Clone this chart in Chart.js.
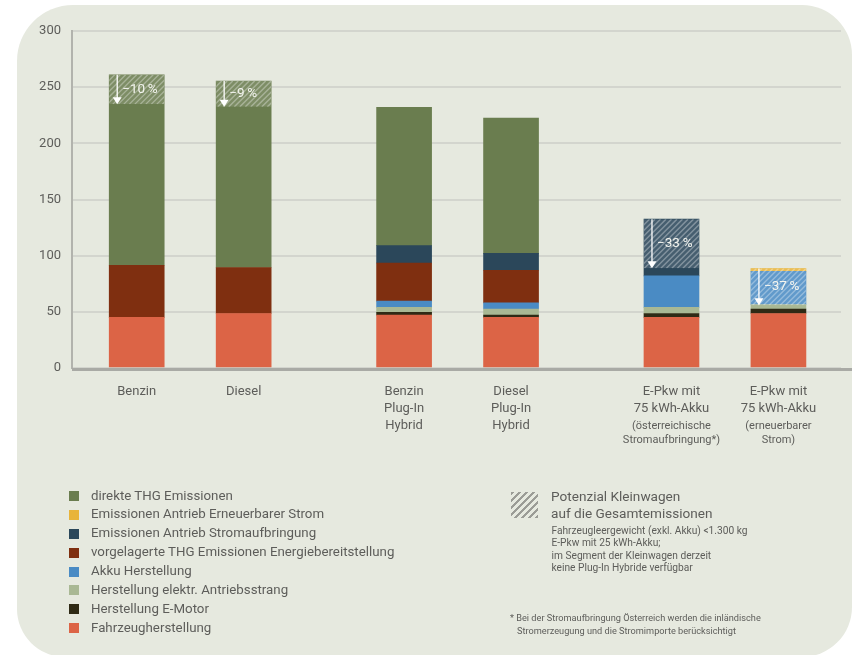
<!DOCTYPE html>
<html lang="de">
<head>
<meta charset="utf-8">
<title>THG-Emissionen Pkw</title>
<script src="https://cdn.jsdelivr.net/npm/chart.js@4.4.0/dist/chart.umd.min.js"></script>
<style>
  html, body { margin: 0; padding: 0; background: #ffffff; }
  body { width: 855px; height: 655px; position: relative; overflow: hidden;
         font-family: Roboto, "Open Sans", sans-serif; color: #5d5d5a; }
  #panel { position: absolute; left: 17px; top: 5px; width: 835px; height: 652px;
           background: #e6e9df; border-radius: 56px 50px 50px 48px; }
  #c { position: absolute; left: 0; top: 0; }
  #legend { position: absolute; left: 69px; top: 486.5px; margin: 0; padding: 0;
            list-style: none; font-size: 13.3px; line-height: 18.9px; }
  #legend li { display: flex; align-items: center; white-space: nowrap; }
  #legend .sw { width: 10px; height: 10px; margin-right: 12px; flex: none; }
  #hatchKey { position: absolute; left: 511px; top: 491.5px; width: 27px; height: 26px;
              background: repeating-linear-gradient(135deg, #9b9c96 0 2.2px, transparent 2.2px 5px); }
  #potTitle { position: absolute; left: 551px; top: 488px; font-size: 13.6px; line-height: 16.6px; white-space: nowrap; }
  #potNote { position: absolute; left: 551.5px; top: 524.8px; font-size: 10.2px; line-height: 12.5px; white-space: nowrap; }
  #footnote { position: absolute; left: 510px; top: 610.6px; font-size: 9.2px; line-height: 13.4px;
              white-space: nowrap; padding-left: 7px; text-indent: -7px; }
</style>
</head>
<body>
<div id="panel"></div>
<canvas id="c" width="855" height="655"></canvas>
<ul id="legend"></ul>
<div id="hatchKey"></div>
<div id="potTitle">Potenzial Kleinwagen<br>auf die Gesamtemissionen</div>
<div id="potNote">Fahrzeugleergewicht (exkl. Akku) &lt;1.300 kg<br>E-Pkw mit 25 kWh-Akku;<br>im Segment der Kleinwagen derzeit<br>keine Plug-In Hybride verfügbar</div>
<div id="footnote">* Bei der Stromaufbringung Österreich werden die inländische<br>Stromerzeugung und die Stromimporte berücksichtigt</div>
<script>
// Fahrzeugkategorien (Achsbeschriftung) und Zusatzzeilen in kleiner Schrift
const categories = [
  ['Benzin'],
  ['Diesel'],
  ['Benzin', 'Plug-In', 'Hybrid'],
  ['Diesel', 'Plug-In', 'Hybrid'],
  ['E-Pkw mit', '75 kWh-Akku'],
  ['E-Pkw mit', '75 kWh-Akku']
];
const categoryNotes = [[], [], [], [], ['(österreichische', 'Stromaufbringung*)'], ['(erneuerbarer', 'Strom)']];
// Antriebsgruppe je Fahrzeug: Verbrenner, Plug-In Hybrid, Elektro
const driveGroup = [0, 0, 1, 1, 2, 2];

// THG-Emissionen je Quelle (g CO2-Äq./km), von unten nach oben gestapelt
const fahrzeugherstellung      = [45, 48.5, 47, 45, 45, 48.5];
const herstellungEMotor        = [null, null, 2.5, 2, 3.5, 4];
const elektrAntriebsstrang     = [null, null, 4.5, 5.5, 5.5, 4];
const akkuHerstellung          = [null, null, 5.5, 5.5, 28, 29.5];
const vorgelagerteEmissionen   = [46.5, 41, 34, 29, null, null];
const antriebStromaufbringung  = [null, null, 15.5, 15, 50.5, null];
const antriebErneuerbarStrom   = [null, null, null, null, null, 2.5];
const direkteEmissionen        = [169.5, 166, 123, 120.5, null, null];

// Einsparpotenzial Kleinwagen in % der Gesamtemissionen
const kleinwagenPotenzial = [-10, -9, null, null, -33, -37];

// y-Achse
const yMax = 300;
const yStep = 50;

// Position jeder Säule: Paare innerhalb einer Gruppe, größerer Abstand zwischen Gruppen
const slots = driveGroup.map((g, i) => g * 5 + (driveGroup.slice(0, i).filter(v => v === g).length) * 2);

const series = [
  { label: 'Fahrzeugherstellung', data: fahrzeugherstellung, color: '#dc6446' },
  { label: 'Herstellung E-Motor', data: herstellungEMotor, color: '#2f2a15' },
  { label: 'Herstellung elektr. Antriebsstrang', data: elektrAntriebsstrang, color: '#a9b894' },
  { label: 'Akku Herstellung', data: akkuHerstellung, color: '#4a8bc4' },
  { label: 'vorgelagerte THG Emissionen Energiebereitstellung', data: vorgelagerteEmissionen, color: '#7f2f10' },
  { label: 'Emissionen Antrieb Stromaufbringung', data: antriebStromaufbringung, color: '#2b475a' },
  { label: 'Emissionen Antrieb Erneuerbarer Strom', data: antriebErneuerbarStrom, color: '#e8b43a' },
  { label: 'direkte THG Emissionen', data: direkteEmissionen, color: '#6a7d4f' }
];

Chart.defaults.font.family = 'Roboto, "Open Sans", sans-serif';
Chart.defaults.color = '#5d5d5a';

// Schraffur, Pfeil und Prozentangabe für das Kleinwagen-Potenzial
const potentialPlugin = {
  id: 'potential',
  afterDatasetsDraw(chart) {
    const { ctx, scales: { y }, chartArea } = chart;
    // Grundlinie bis zum rechten Rand
    const y0 = y.getPixelForValue(0);
    ctx.save();
    ctx.strokeStyle = '#a9aaa5';
    ctx.lineWidth = 3;
    ctx.beginPath();
    ctx.moveTo(chartArea.left, y0 + 1.5);
    ctx.lineTo(852, y0 + 1.5);
    ctx.stroke();
    ctx.restore();

    kleinwagenPotenzial.forEach((pct, i) => {
      if (pct == null) return;
      let total = 0;
      let bar = null;
      chart.data.datasets.forEach((ds, d) => {
        const v = ds.data[i].y;
        if (v != null) {
          total += v;
          bar = chart.getDatasetMeta(d).data[i];
        }
      });
      if (!bar) return;
      const { x, width } = bar.getProps(['x', 'width'], true);
      const left = x - width / 2;
      const yTop = y.getPixelForValue(total);
      const yBot = y.getPixelForValue(total * (1 + pct / 100));
      const h = yBot - yTop;

      ctx.save();
      ctx.beginPath();
      ctx.rect(left, yTop, width, h);
      ctx.clip();
      ctx.fillStyle = 'rgba(255,255,255,0.13)';
      ctx.fillRect(left, yTop, width, h);
      ctx.strokeStyle = 'rgba(255,255,255,0.33)';
      ctx.lineWidth = 1.4;
      for (let k = -h; k < width + h; k += 5.5) {
        ctx.beginPath();
        ctx.moveTo(left + k, yBot);
        ctx.lineTo(left + k + h, yTop);
        ctx.stroke();
      }
      ctx.restore();

      const ax = left + 8;
      ctx.save();
      ctx.strokeStyle = '#ffffff';
      ctx.fillStyle = '#ffffff';
      ctx.lineWidth = 1.3;
      ctx.beginPath();
      ctx.moveTo(ax, yTop);
      ctx.lineTo(ax, yBot - 6);
      ctx.stroke();
      ctx.beginPath();
      ctx.moveTo(ax - 4.5, yBot - 7);
      ctx.lineTo(ax + 4.5, yBot - 7);
      ctx.lineTo(ax, yBot);
      ctx.closePath();
      ctx.fill();
      ctx.fillStyle = '#f4f5ef';
      ctx.font = '13.5px Roboto, "Open Sans", sans-serif';
      ctx.textAlign = 'left';
      ctx.textBaseline = 'middle';
      ctx.fillText('\u2212' + Math.abs(pct) + '\u2009%', ax + 5, (yTop + yBot) / 2);
      ctx.restore();
    });
  },
  afterDraw(chart) {
    const { ctx, scales: { x } } = chart;
    ctx.save();
    ctx.font = '11px Roboto, "Open Sans", sans-serif';
    ctx.fillStyle = '#5d5d5a';
    ctx.textAlign = 'center';
    ctx.textBaseline = 'middle';
    categoryNotes.forEach((lines, i) => {
      const px = x.getPixelForValue(slots[i]);
      lines.forEach((t, j) => ctx.fillText(t, px, x.top + 58 + j * 14));
    });
    ctx.restore();
  }
};

const chart = new Chart(document.getElementById('c'), {
  type: 'bar',
  data: {
    datasets: series.map(s => ({
      label: s.label,
      data: s.data.map((v, i) => ({ x: slots[i], y: v })),
      backgroundColor: s.color,
      borderWidth: 0,
      barThickness: 55
    }))
  },
  options: {
    responsive: false,
    animation: false,
    events: [],
    layout: { padding: { top: 31, right: 14, bottom: 0, left: 0 } },
    plugins: { legend: { display: false }, tooltip: { enabled: false } },
    scales: {
      x: {
        type: 'linear',
        stacked: true,
        offset: false,
        min: -1.21,
        max: 13.17,
        grid: { display: false, drawTicks: false },
        border: { display: false },
        afterBuildTicks: scale => { scale.ticks = slots.map(v => ({ value: v })); },
        afterFit: scale => { scale.height = 287; },
        ticks: {
          autoSkip: false,
          maxRotation: 0,
          padding: 15,
          color: '#5d5d5a',
          font: { size: 13, lineHeight: 1.3 },
          callback: value => categories[slots.indexOf(value)]
        }
      },
      y: {
        stacked: true,
        min: 0,
        max: yMax,
        grid: { color: '#d3d5ce', lineWidth: 2, drawTicks: false },
        border: { color: '#b2b3ad', width: 2 },
        afterFit: scale => { scale.width = 72; },
        ticks: {
          stepSize: yStep,
          padding: 11,
          color: '#5d5d5a',
          font: { size: 13 }
        }
      }
    }
  },
  plugins: [potentialPlugin]
});

// Legende: oberste Schicht zuerst
const legend = document.getElementById('legend');
chart.data.datasets.slice().reverse().forEach(ds => {
  const li = document.createElement('li');
  const sw = document.createElement('span');
  sw.className = 'sw';
  sw.style.background = ds.backgroundColor;
  li.appendChild(sw);
  li.appendChild(document.createTextNode(ds.label));
  legend.appendChild(li);
});
</script>
</body>
</html>
